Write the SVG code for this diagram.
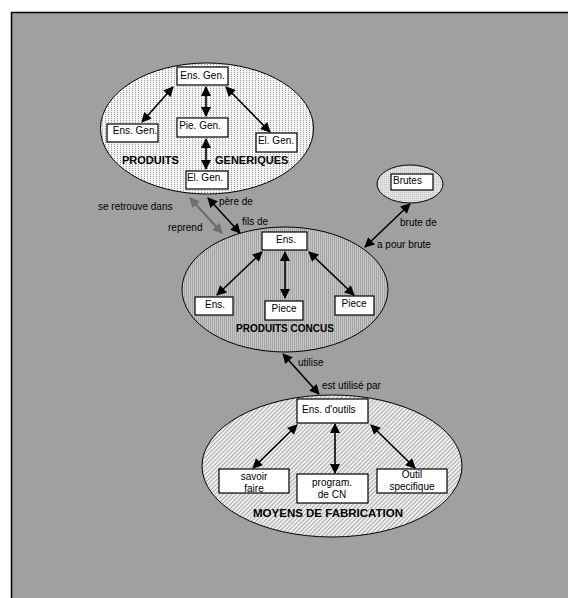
<svg xmlns="http://www.w3.org/2000/svg" width="568" height="598" viewBox="0 0 568 598">
  <style>
    .box { fill: #ffffff; stroke: #000000; stroke-width: 1.2; }
    .lbl { font-family: "Liberation Sans", Arial, sans-serif; font-size: 10px; fill: #000000; }
    .ttl { font-family: "Liberation Sans", Arial, sans-serif; font-weight: bold; fill: #000000; }
    .edge { fill: none; stroke: #000000; stroke-width: 1.6; }
    .edge-gray { fill: none; stroke: #6e6e6e; stroke-width: 2.2; }
    .ell { stroke: #000000; stroke-width: 1; }
  </style>
  <defs>
    <pattern id="dots" width="3" height="2" patternUnits="userSpaceOnUse">
      <rect width="3" height="2" fill="#f4f4f4"/>
      <rect x="0" y="0" width="1" height="1" fill="#9a9a9a"/>
    </pattern>
    <pattern id="vstripe" width="2" height="2" patternUnits="userSpaceOnUse">
      <rect width="2" height="2" fill="#c6c6c6"/>
      <rect x="0" y="0" width="1" height="2" fill="#a4a4a4"/>
    </pattern>
    <pattern id="diag" width="3" height="3" patternUnits="userSpaceOnUse" patternTransform="rotate(45)">
      <rect width="3" height="3" fill="#f0f0f0"/>
      <rect x="0" y="0" width="1" height="3" fill="#a8a8a8"/>
    </pattern>
    <pattern id="fine" width="2" height="2" patternUnits="userSpaceOnUse">
      <rect width="2" height="2" fill="#e2e2e2"/>
      <rect x="0" y="0" width="1" height="1" fill="#c4c4c4"/>
    </pattern>
    <marker id="ah" viewBox="0 0 10 10" refX="9" refY="5" markerWidth="11" markerHeight="10" markerUnits="userSpaceOnUse" orient="auto-start-reverse">
      <path d="M0,0 L10,5 L0,10 z" fill="#000000"/>
    </marker>
    <marker id="ahg" viewBox="0 0 10 10" refX="9" refY="5" markerWidth="11" markerHeight="10" markerUnits="userSpaceOnUse" orient="auto-start-reverse">
      <path d="M0,0 L10,5 L0,10 z" fill="#6e6e6e"/>
    </marker>
  </defs>

  <!-- background panel -->
  <rect x="11.5" y="12.5" width="570" height="600" fill="#a0a0a0" stroke="#000000" stroke-width="1.5"/>

  <!-- PRODUITS GENERIQUES -->
  <g id="produits-generiques">
    <ellipse class="ell" cx="207" cy="128.5" rx="106.5" ry="65.5" fill="url(#dots)"/>
    <text class="ttl" x="122" y="164" font-size="11">PRODUITS</text>
    <text class="ttl" x="215" y="164" font-size="11">GENERIQUES</text>
  </g>
  <g id="gen-ens-top">
    <rect class="box" x="177" y="67" width="51" height="18"/>
    <text class="lbl" x="202.5" y="79" text-anchor="middle">Ens. Gen.</text>
  </g>
  <g id="gen-ens-left">
    <rect class="box" x="107" y="124" width="51" height="18"/>
    <text class="lbl" x="135" y="134" text-anchor="middle">Ens. Gen.</text>
  </g>
  <g id="gen-pie">
    <rect class="box" x="177" y="118" width="51" height="19"/>
    <text class="lbl" x="200" y="129" text-anchor="middle">Pie. Gen.</text>
  </g>
  <g id="gen-el-right">
    <rect class="box" x="256" y="133" width="41" height="19"/>
    <text class="lbl" x="276" y="144" text-anchor="middle">El. Gen.</text>
  </g>
  <g id="gen-el-bottom">
    <rect class="box" x="186" y="171" width="42" height="18"/>
    <text class="lbl" x="205" y="181" text-anchor="middle">El. Gen.</text>
  </g>

  <!-- PRODUITS CONCUS -->
  <g id="produits-concus">
    <ellipse class="ell" cx="285" cy="289.5" rx="103" ry="62.5" fill="url(#vstripe)"/>
    <text class="ttl" x="285" y="332" font-size="10" text-anchor="middle">PRODUITS CONCUS</text>
  </g>
  <g id="concus-ens-top">
    <rect class="box" x="262" y="232" width="45" height="18"/>
    <text class="lbl" x="286" y="243" text-anchor="middle">Ens.</text>
  </g>
  <g id="concus-ens-left">
    <rect class="box" x="195" y="297" width="38" height="18"/>
    <text class="lbl" x="215" y="308" text-anchor="middle">Ens.</text>
  </g>
  <g id="concus-piece-mid">
    <rect class="box" x="265" y="301" width="38" height="19"/>
    <text class="lbl" x="284" y="312" text-anchor="middle">Piece</text>
  </g>
  <g id="concus-piece-right">
    <rect class="box" x="335" y="296" width="39" height="19"/>
    <text class="lbl" x="354" y="307" text-anchor="middle">Piece</text>
  </g>

  <!-- Brutes -->
  <g id="brutes">
    <ellipse class="ell" cx="410" cy="184" rx="33" ry="19" fill="url(#fine)"/>
    <rect class="box" x="391" y="174" width="42" height="16"/>
    <text class="lbl" x="393" y="184">Brutes</text>
  </g>

  <!-- MOYENS DE FABRICATION -->
  <g id="moyens-fabrication">
    <ellipse class="ell" cx="332" cy="466" rx="130" ry="71" fill="url(#diag)"/>
    <text class="ttl" x="328" y="517" font-size="11.5" text-anchor="middle">MOYENS DE FABRICATION</text>
  </g>
  <g id="fab-ens-outils">
    <rect class="box" x="297" y="399" width="71" height="24"/>
    <text class="lbl" x="302" y="413">Ens. d'outils</text>
  </g>
  <g id="fab-savoir-faire">
    <rect class="box" x="219" y="469" width="70" height="24"/>
    <text class="lbl" x="254" y="480" text-anchor="middle">savoir</text>
    <text class="lbl" x="254" y="492" text-anchor="middle">faire</text>
  </g>
  <g id="fab-program">
    <rect class="box" x="297" y="474" width="71" height="29"/>
    <text class="lbl" x="332" y="486" text-anchor="middle">program.</text>
    <text class="lbl" x="332" y="498" text-anchor="middle">de CN</text>
  </g>
  <g id="fab-outil">
    <rect class="box" x="377" y="469" width="70" height="24"/>
    <text class="lbl" x="412" y="478" text-anchor="middle">Outil</text>
    <text class="lbl" x="412" y="490" text-anchor="middle">specifique</text>
  </g>

  <!-- connectors -->
  <g id="connectors">
    <!-- inside PRODUITS GENERIQUES -->
    <line class="edge" x1="173" y1="87" x2="142" y2="122" marker-start="url(#ah)" marker-end="url(#ah)"/>
    <line class="edge" x1="206" y1="87" x2="206" y2="116" marker-start="url(#ah)" marker-end="url(#ah)"/>
    <line class="edge" x1="226" y1="87" x2="270" y2="132" marker-start="url(#ah)" marker-end="url(#ah)"/>
    <line class="edge" x1="206" y1="139" x2="206" y2="169" marker-start="url(#ah)" marker-end="url(#ah)"/>

    <!-- between the generic and designed products -->
    <line class="edge-gray" x1="190" y1="198" x2="222" y2="233" marker-start="url(#ahg)" marker-end="url(#ahg)"/>
    <line class="edge" x1="208" y1="198" x2="240" y2="233" marker-start="url(#ah)" marker-end="url(#ah)"/>

    <!-- inside PRODUITS CONCUS -->
    <line class="edge" x1="262" y1="252" x2="217" y2="295" marker-start="url(#ah)" marker-end="url(#ah)"/>
    <line class="edge" x1="285" y1="252" x2="285" y2="298" marker-start="url(#ah)" marker-end="url(#ah)"/>
    <line class="edge" x1="309" y1="252" x2="354" y2="295" marker-start="url(#ah)" marker-end="url(#ah)"/>

    <!-- Brutes link -->
    <line class="edge" x1="410" y1="204" x2="365" y2="247" marker-start="url(#ah)" marker-end="url(#ah)"/>

    <!-- designed products to manufacturing means -->
    <line class="edge" x1="283" y1="354" x2="319" y2="394" marker-start="url(#ah)" marker-end="url(#ah)"/>

    <!-- inside MOYENS DE FABRICATION -->
    <line class="edge" x1="297" y1="425" x2="253" y2="468" marker-start="url(#ah)" marker-end="url(#ah)"/>
    <line class="edge" x1="335" y1="424" x2="335" y2="473" marker-start="url(#ah)" marker-end="url(#ah)"/>
    <line class="edge" x1="371" y1="425" x2="415" y2="468" marker-start="url(#ah)" marker-end="url(#ah)"/>

    <!-- connector labels -->
    <text class="lbl" x="98" y="210">se retrouve dans</text>
    <text class="lbl" x="168" y="231">reprend</text>
    <text class="lbl" x="219" y="205">père de</text>
    <text class="lbl" x="242" y="225">fils de</text>
    <text class="lbl" x="400" y="226">brute de</text>
    <text class="lbl" x="377" y="248">a pour brute</text>
    <text class="lbl" x="298" y="366">utilise</text>
    <text class="lbl" x="322" y="389">est utilisé par</text>
  </g>
</svg>
